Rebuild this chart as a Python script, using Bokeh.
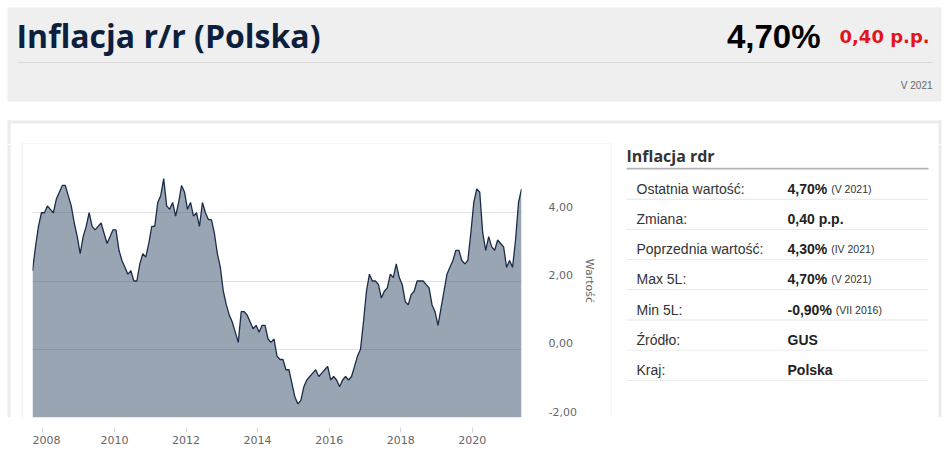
from bokeh.plotting import figure
from bokeh.layouts import row, column
from bokeh.models import (Range1d, LinearAxis, FixedTicker, CustomJSTickFormatter,
                          ColumnDataSource)
from bokeh.core.properties import value
from bokeh.embed import file_html
from bokeh.resources import INLINE

# ---------------- data ----------------
FIRST_YEAR, FIRST_MONTH = 2007, 9          # first monthly reading (IX 2007)
cpi_2007 = [2.3, 3.0, 3.6, 4.0]
cpi_2008 = [4.0, 4.2, 4.1, 4.0, 4.4, 4.6, 4.8, 4.8, 4.5, 4.2, 3.7, 3.3]
cpi_2009 = [2.8, 3.3, 3.6, 4.0, 3.6, 3.5, 3.6, 3.7, 3.4, 3.1, 3.3, 3.5]
cpi_2010 = [3.5, 2.9, 2.6, 2.4, 2.2, 2.3, 2.0, 2.0, 2.5, 2.8, 2.7, 3.1]
cpi_2011 = [3.6, 3.6, 4.3, 4.5, 5.0, 4.2, 4.1, 4.3, 3.9, 4.3, 4.8, 4.6]
cpi_2012 = [4.1, 4.3, 3.9, 4.0, 3.6, 4.3, 4.0, 3.8, 3.8, 3.4, 2.8, 2.4]
cpi_2013 = [1.7, 1.3, 1.0, 0.8, 0.5, 0.2, 1.1, 1.1, 1.0, 0.8, 0.6, 0.7]
cpi_2014 = [0.5, 0.7, 0.7, 0.3, 0.2, 0.3, -0.2, -0.3, -0.3, -0.6, -0.6, -1.0]
cpi_2015 = [-1.4, -1.6, -1.5, -1.1, -0.9, -0.8, -0.7, -0.6, -0.8, -0.7, -0.6, -0.5]
cpi_2016 = [-0.9, -0.8, -0.9, -1.1, -0.9, -0.8, -0.9, -0.8, -0.5, -0.2, 0.0, 0.8]
cpi_2017 = [1.7, 2.2, 2.0, 2.0, 1.9, 1.5, 1.7, 1.8, 2.2, 2.1, 2.5, 2.1]
cpi_2018 = [1.9, 1.4, 1.3, 1.6, 1.7, 2.0, 2.0, 2.0, 1.9, 1.8, 1.3, 1.1]
cpi_2019 = [0.7, 1.2, 1.7, 2.2, 2.4, 2.6, 2.9, 2.9, 2.6, 2.5, 2.6, 3.4]
cpi_2020 = [4.3, 4.7, 4.6, 3.4, 2.9, 3.3, 3.0, 2.9, 3.2, 3.1, 3.0, 2.4]
cpi_2021 = [2.6, 2.4, 3.2, 4.3, 4.7]

year_ticks = [2008, 2010, 2012, 2014, 2016, 2018, 2020]
value_ticks = [-2, 0, 2, 4]
Y_MIN, Y_MAX = -2, 6

title_text = "Inflacja r/r (Polska)"
last_value_text = "4,70%"
change_text = "0,40 p.p."
period_text = "V 2021"
axis_title = "Wartość"

table_title = "Inflacja rdr"
table_labels = ["Ostatnia wartość:", "Zmiana:", "Poprzednia wartość:", "Max 5L:",
                "Min 5L:", "Źródło:", "Kraj:"]
table_values = ["4,70%", "0,40 p.p.", "4,30%", "4,70%", "-0,90%", "GUS", "Polska"]
table_notes = ["(V 2021)", "", "(IV 2021)", "(V 2021)", "(VII 2016)", "", ""]

series = (cpi_2007 + cpi_2008 + cpi_2009 + cpi_2010 + cpi_2011 + cpi_2012 + cpi_2013
          + cpi_2014 + cpi_2015 + cpi_2016 + cpi_2017 + cpi_2018 + cpi_2019 + cpi_2020
          + cpi_2021)
xs = [FIRST_YEAR + (FIRST_MONTH - 1 + i + 0.5) / 12 for i in range(len(series))]
src = ColumnDataSource(dict(x=xs, v=series, base=[Y_MIN] * len(series)))

# ---------------- page geometry (px) ----------------
W, H = 948, 455
SPLIT_Y = 144                 # header strip / lower strip
CL, CR = 32, 610              # chart figure spans these x
FR, FB = 521, 417             # plot-area right edge / bottom edge
BORDER = "#ececec"


def canvas_fig(x0, x1, y0, y1):
    """A figure whose whole canvas is its frame, addressed in page pixels."""
    f = figure(width=x1 - x0, height=y1 - y0, output_backend="svg", toolbar_location=None,
               x_range=Range1d(x0, x1), y_range=Range1d(y1, y0),
               x_axis_location=None, y_axis_location=None, min_border=0)
    f.outline_line_color = None
    f.grid.visible = False
    f.background_fill_color = "white"
    f.border_fill_color = "white"
    return f


def rect(f, l, t, r, b, color):
    f.quad(left=[l], right=[r], top=[t], bottom=[b], fill_color=color, line_color=None)


def txt(f, x, y, s, size, color, font, style="normal", align="left", baseline="alphabetic"):
    f.text(x=[x], y=[y], text=[s], text_font=value(font), text_font_size=value(size),
           text_color=color, text_font_style=value(style), text_align=value(align),
           text_baseline=value(baseline))


# ---------------- header strip ----------------
top = canvas_fig(0, W, 0, SPLIT_Y)
rect(top, 7, 7, 941, 101, "#efefef")
rect(top, 17, 61.5, 932, 62.5, "#d9d9d9")
txt(top, 16, 34.5, title_text, "32px", "#0c1f3f", "Open Sans", "bold")
txt(top, 820, 36, last_value_text, "33px", "#000000", "Liberation Sans", "bold", align="right")
txt(top, 839, 36.2, change_text, "18px", "#e3141c", "DejaVu Sans", "bold")
txt(top, 932, 84.5, period_text, "10px", "#666666", "Liberation Sans", align="right",
    baseline="middle")
# outer panel border (top + sides) and chart container border (top + sides)
rect(top, 7, 120, 941, 123, BORDER)
rect(top, 7, 120, 10, SPLIT_Y, BORDER)
rect(top, 938, 120, 941, SPLIT_Y, BORDER)
rect(top, 21, 143, 611, 144, BORDER)

# ---------------- left margin strip ----------------
left = canvas_fig(0, CL, SPLIT_Y, H)
rect(left, 7, SPLIT_Y, 10, H, BORDER)
rect(left, 21, SPLIT_Y, 22, H, BORDER)

# ---------------- chart ----------------
p = figure(width=CR - CL, height=H - SPLIT_Y, output_backend="svg", toolbar_location=None,
           x_range=Range1d(xs[0], xs[-1]), y_range=Range1d(Y_MIN, Y_MAX),
           x_axis_location=None, y_axis_location=None,
           min_border_left=0, min_border_top=0,
           min_border_right=CR - FR, min_border_bottom=H - FB)
p.outline_line_color = None
p.background_fill_color = "white"
p.border_fill_color = "white"
p.xgrid.visible = False
p.ygrid.ticker = FixedTicker(ticks=value_ticks)
p.ygrid.grid_line_color = "#e3e3e3"
p.ygrid.grid_line_width = 1

px_per_unit = (FB - SPLIT_Y) / (Y_MAX - Y_MIN)
shift = 6 / px_per_unit       # value labels sit a little above their grid lines
p.extra_y_ranges = {"lab": Range1d(Y_MIN - shift, Y_MAX - shift)}

p.varea(x="x", y1="base", y2="v", source=src, fill_color="#354b67", fill_alpha=0.5)
p.line(x="x", y="v", source=src, line_color="#1b2c4a", line_width=1.3)

xa = LinearAxis(ticker=FixedTicker(ticks=year_ticks))
xa.axis_line_color = None
xa.major_tick_in = -10
xa.major_tick_out = 15
xa.major_tick_line_color = "#ccd6eb"
xa.minor_tick_line_color = None
xa.major_label_standoff = 3
xa.major_label_text_font = "DejaVu Sans"
xa.major_label_text_font_size = "11px"
xa.major_label_text_color = "#666666"
p.add_layout(xa, "below")

ya = LinearAxis(y_range_name="lab", ticker=FixedTicker(ticks=value_ticks),
                formatter=CustomJSTickFormatter(code="return tick.toFixed(2).replace('.', ',')"))
ya.axis_line_color = None
ya.major_tick_line_color = None
ya.minor_tick_line_color = None
ya.major_tick_in = 0
ya.major_tick_out = 0
ya.major_label_standoff = 27
ya.major_label_text_font = "DejaVu Sans"
ya.major_label_text_font_size = "11px"
ya.major_label_text_color = "#666666"
ya.axis_label = axis_title
ya.axis_label_standoff = 3
ya.axis_label_text_font = "DejaVu Sans"
ya.axis_label_text_font_size = "11px"
ya.axis_label_text_font_style = "normal"
ya.axis_label_text_color = "#666666"
p.add_layout(ya, "right")

# ---------------- right strip: info table ----------------
rt = canvas_fig(CR, W, SPLIT_Y, H)
rect(rt, 610, SPLIT_Y, 611, H, BORDER)        # chart container right edge
rect(rt, 938, SPLIT_Y, 941, H, BORDER)        # outer panel right edge
txt(rt, 626, 157.5, table_title, "16px", "#333333", "Open Sans", "bold")
rect(rt, 626, 170.5, 928, 172.5, "#b4b4b4")

bold_w = {c: 0.556 for c in "0123456789"}
bold_w.update({",": 0.278, "%": 0.889, "-": 0.333, ".": 0.278, " ": 0.278, "p": 0.611})
ROW0, PITCH = 189.5, 34.4
for i, (lab, val, note) in enumerate(zip(table_labels, table_values, table_notes)):
    yc = ROW0 + i * PITCH
    txt(rt, 636, yc + 5, lab, "14px", "#333333", "Liberation Sans")
    txt(rt, 787, yc + 5, val, "14px", "#222222", "Liberation Sans", "bold")
    if note:
        w = sum(bold_w.get(c, 0.6) for c in val) * 14
        txt(rt, 787 + w + 4, yc + 5, note, "10.5px", "#333333", "Liberation Sans")
    rect(rt, 626, yc + 16.3, 928, yc + 17.3, "#e6e6e6")

layout = column(top, row(left, p, rt))
open("out.html", "w").write(file_html(layout, INLINE))
